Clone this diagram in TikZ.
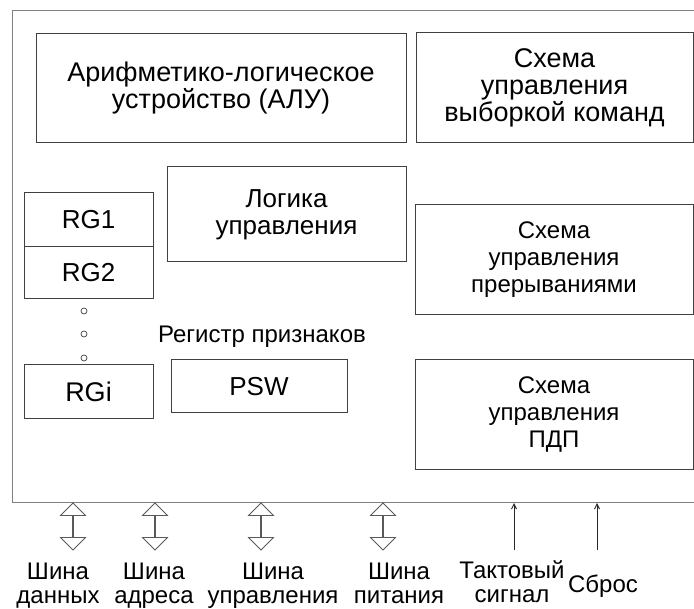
\documentclass[tikz,border=0pt]{standalone}
\usepackage{fontspec}
\setmainfont{Liberation Sans}
\usetikzlibrary{shapes.arrows,arrows.meta}
\newcommand\dfont[1]{\fontsize{#1}{27}\selectfont}
\newcommand\lfont{\fontsize{24}{24}\selectfont}
\begin{document}
\begin{tikzpicture}[x=1pt,y=-1pt,
  box/.style={draw=black!75,line width=1pt,inner sep=0pt,align=center,font=\dfont{24}},
  lbl/.style={inner sep=0pt,align=center,font=\lfont},
  frame/.style={draw=black!50,line width=1pt},
  dbl/.style={double arrow,draw=black!65,line width=0.8pt,rotate=90,inner sep=0pt,
    minimum height=47pt,minimum width=25pt,double arrow head extend=8.5pt},
  thin/.style={draw=black!85,line width=1pt,-{Straight Barb[length=5pt,width=5pt]}},
  dot/.style={circle,draw=black!75,line width=0.7pt,minimum size=6pt,inner sep=0pt}]
\useasboundingbox (0,0) rectangle (694,609);
% outer frame (right side outside the picture)
\draw[frame] (694,11) -- (12,11) -- (12,503) -- (694,503);
% blocks
\node[box,font=\dfont{27},minimum width=370pt,minimum height=109pt] (alu) at (221,88.5)
  {Арифметико-логическое\\устройство (АЛУ)};
\node[box,font=\dfont{27},minimum width=277pt,minimum height=110pt] (cmd) at (554.5,88)
  {Схема\\управления\\выборкой команд};
\node[box,font=\dfont{26},minimum width=239pt,minimum height=95pt] (logic) at (286.5,214.5)
  {Логика\\управления};
\node[box,font=\dfont{26},minimum width=129pt,minimum height=54pt] (rg1) at (88.5,220) {RG1};
\node[box,font=\dfont{26},minimum width=129pt,minimum height=52pt] (rg2) at (88.5,273) {RG2};
\node[box,font=\dfont{27},minimum width=129pt,minimum height=54pt] (rgi) at (88.5,392) {RGi};
\node[dot] (d1) at (84,311) {};
\node[dot] (d2) at (84,334) {};
\node[dot] (d3) at (84,358) {};
\node[lbl,font=\dfont{24},anchor=base] (flags) at (262,343) {Регистр признаков};
\node[box,font=\dfont{26},minimum width=176pt,minimum height=53pt] (psw) at (259,386.5) {PSW};
\node[box,minimum width=278pt,minimum height=110pt] (intr) at (554,260)
  {Схема\\управления\\прерываниями};
\node[box,minimum width=278pt,minimum height=110pt] (dma) at (554,415)
  {Схема\\управления\\ПДП};
% bus arrows
\node[dbl] (a1) at (73,526.5) {};
\node[dbl] (a2) at (155,526.5) {};
\node[dbl] (a3) at (261,526.5) {};
\node[dbl] (a4) at (383,526.5) {};
% signal arrows
\coordinate (t1s) at (514,550);
\coordinate (t1e) at (514,503);
\coordinate (t2s) at (597,550);
\coordinate (t2e) at (597,503);
\draw[thin] (t1s) -- (t1e);
\draw[thin] (t2s) -- (t2e);
% labels
\node[lbl,anchor=north] (l1) at (58,563) {Шина\\данных};
\node[lbl,anchor=north] (l2) at (154,563) {Шина\\адреса};
\node[lbl,anchor=north] (l3) at (273,563) {Шина\\управления};
\node[lbl,anchor=north] (l4) at (399,563) {Шина\\питания};
\node[lbl,anchor=north] (l5) at (512,560) {Тактовый\\сигнал};
\node[lbl,anchor=north] (l6) at (603,575) {Сброс};
\end{tikzpicture}
\end{document}
